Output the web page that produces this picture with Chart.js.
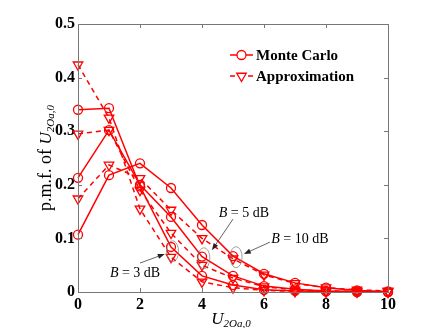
<!DOCTYPE html>
<html>
<head>
<meta charset="utf-8">
<script src="https://cdn.jsdelivr.net/npm/chart.js@4.4.0/dist/chart.umd.min.js"></script>
<style>
  html, body { margin: 0; padding: 0; background: #fff; }
  #wrap { width: 429px; height: 328px; }
</style>
</head>
<body>
<div id="wrap"><canvas id="pmf-chart" width="429" height="328"></canvas></div>
<script>
// values, one entry per U = 0..10
const xVals = [0, 1, 2, 3, 4, 5, 6, 7, 8, 9, 10];
const mcB3  = [0.340, 0.343, 0.197, 0.084, 0.030, 0.013, 0.004, 0.002, 0.001, 0.000, 0.000];
const apB3  = [0.424, 0.325, 0.155, 0.065, 0.019, 0.008, 0.003, 0.001, 0.000, 0.000, 0.000];
const mcB5  = [0.213, 0.302, 0.200, 0.140, 0.066, 0.030, 0.011, 0.005, 0.002, 0.001, 0.000];
const apB5  = [0.295, 0.302, 0.190, 0.110, 0.050, 0.026, 0.010, 0.004, 0.002, 0.001, 0.000];
const mcB10 = [0.107, 0.218, 0.240, 0.194, 0.125, 0.067, 0.034, 0.017, 0.008, 0.003, 0.001];
const apB10 = [0.174, 0.237, 0.212, 0.153, 0.100, 0.062, 0.032, 0.016, 0.008, 0.004, 0.002];
const xTicks = [0, 2, 4, 6, 8, 10];
const yTicks = [0, 0.1, 0.2, 0.3, 0.4, 0.5];
const legendNames = ['Monte Carlo', 'Approximation'];
// callouts, in data units: ellipse centre, arrow tail/head, label centre
const callouts = [
  { label: '3 dB',  ell: [3.05, 0.076], tail: [2.00, 0.054], head: [2.80, 0.071], at: [1.84, 0.037] },
  { label: '5 dB',  ell: [4.06, 0.063], tail: [5.00, 0.136], head: [4.32, 0.078], at: [5.35, 0.149] },
  { label: '10 dB', ell: [5.10, 0.065], tail: [6.19, 0.093], head: [5.35, 0.071], at: [7.16, 0.100] }
];

const RED = '#ff0000';
const SERIF = '"Liberation Serif", "Times New Roman", serif';

const pts = ys => xVals.map((x, i) => ({ x: x, y: ys[i] }));

function mcSet(name, ys) {
  return {
    label: name, data: pts(ys), borderColor: RED, backgroundColor: 'rgba(0,0,0,0)',
    borderWidth: 1.5, pointStyle: 'circle', pointRadius: 4.5, pointBorderWidth: 1.3,
    pointBorderColor: RED, pointBackgroundColor: 'rgba(0,0,0,0)', clip: false
  };
}
function apSet(name, ys) {
  return {
    label: name, data: pts(ys), borderColor: RED, backgroundColor: 'rgba(0,0,0,0)',
    borderWidth: 1.5, borderDash: [5, 4], pointStyle: 'triangle', pointRotation: 180,
    pointRadius: 5.5, pointBorderWidth: 1.3, pointBorderColor: RED,
    pointBackgroundColor: 'rgba(0,0,0,0)', clip: false
  };
}

// draw a run of text pieces with different fonts, centred on x, baseline y
function richText(ctx, parts, x, y) {
  let w = 0;
  parts.forEach(p => { ctx.font = p.font; p.w = ctx.measureText(p.t).width; w += p.w; });
  let cx = x - w / 2;
  ctx.textAlign = 'left';
  ctx.textBaseline = 'alphabetic';
  parts.forEach(p => {
    ctx.font = p.font;
    ctx.fillText(p.t, cx, y + (p.dy || 0));
    cx += p.w;
  });
}

function arrow(ctx, x1, y1, x2, y2) {
  const a = Math.atan2(y2 - y1, x2 - x1);
  ctx.beginPath();
  ctx.moveTo(x1, y1);
  ctx.lineTo(x2 - 5 * Math.cos(a), y2 - 5 * Math.sin(a));
  ctx.stroke();
  ctx.beginPath();
  ctx.moveTo(x2, y2);
  ctx.lineTo(x2 - 7 * Math.cos(a) + 2.6 * Math.sin(a), y2 - 7 * Math.sin(a) - 2.6 * Math.cos(a));
  ctx.lineTo(x2 - 7 * Math.cos(a) - 2.6 * Math.sin(a), y2 - 7 * Math.sin(a) + 2.6 * Math.cos(a));
  ctx.closePath();
  ctx.fill();
}

const decorations = {
  id: 'decorations',
  afterDatasetsDraw(chart) {
    const ctx = chart.ctx;
    const xs = chart.scales.x, ys = chart.scales.y;
    const a = chart.chartArea;
    ctx.save();

    // box and inward ticks
    ctx.strokeStyle = '#777';
    ctx.lineWidth = 1;
    ctx.strokeRect(Math.round(a.left) + 0.5, Math.round(a.top) + 0.5,
      Math.round(a.right - a.left), Math.round(a.bottom - a.top));
    ctx.beginPath();
    xTicks.forEach(v => {
      const px = Math.round(xs.getPixelForValue(v)) + 0.5;
      ctx.moveTo(px, a.bottom); ctx.lineTo(px, a.bottom - 4);
      ctx.moveTo(px, a.top); ctx.lineTo(px, a.top + 4);
    });
    yTicks.forEach(v => {
      const py = Math.round(ys.getPixelForValue(v)) + 0.5;
      ctx.moveTo(a.left, py); ctx.lineTo(a.left + 4, py);
      ctx.moveTo(a.right, py); ctx.lineTo(a.right - 4, py);
    });
    ctx.stroke();

    // callouts
    callouts.forEach(c => {
      ctx.strokeStyle = '#777';
      ctx.lineWidth = 0.7;
      ctx.setLineDash([]);
      ctx.beginPath();
      ctx.ellipse(xs.getPixelForValue(c.ell[0]), ys.getPixelForValue(c.ell[1]), 6, 10.5, 0, 0, Math.PI * 2);
      ctx.stroke();
      ctx.strokeStyle = '#222';
      ctx.fillStyle = '#222';
      ctx.lineWidth = 0.7;
      arrow(ctx, xs.getPixelForValue(c.tail[0]), ys.getPixelForValue(c.tail[1]),
        xs.getPixelForValue(c.head[0]), ys.getPixelForValue(c.head[1]));
      ctx.fillStyle = '#000';
      richText(ctx, [
        { t: 'B', font: 'italic 14px ' + SERIF },
        { t: ' = ' + c.label, font: '14px ' + SERIF }
      ], xs.getPixelForValue(c.at[0]), ys.getPixelForValue(c.at[1]) + 5);
    });

    // legend
    const lx = 230, rows = [55, 76];
    chart.data.datasets.slice(0, 2).forEach((ds, i) => {
      const ly = rows[i];
      ctx.strokeStyle = RED;
      ctx.lineWidth = 1.5;
      ctx.setLineDash(ds.borderDash || []);
      ctx.beginPath();
      ctx.moveTo(lx, ly); ctx.lineTo(lx + 23, ly);
      ctx.stroke();
      ctx.setLineDash([]);
      ctx.lineWidth = 1.3;
      ctx.fillStyle = '#fff';
      ctx.strokeStyle = RED;
      Chart.helpers.drawPoint(ctx, {
        pointStyle: ds.pointStyle, rotation: ds.pointRotation || 0,
        radius: ds.pointRadius, borderWidth: 1.3
      }, lx + 11.5, ly);
      ctx.fillStyle = '#000';
      ctx.font = 'bold 15px ' + SERIF;
      ctx.textAlign = 'left';
      ctx.textBaseline = 'middle';
      ctx.fillText(legendNames[i], lx + 26, ly + 1);
    });

    // axis titles
    ctx.fillStyle = '#000';
    richText(ctx, [
      { t: 'U', font: 'italic 17px ' + SERIF },
      { t: '2Oa,0', font: 'italic 11px ' + SERIF, dy: 3 }
    ], (a.left + a.right) / 2 - 2, 324);
    ctx.translate(51, 158);
    ctx.rotate(-Math.PI / 2);
    richText(ctx, [
      { t: 'p.m.f. of ', font: '18px ' + SERIF },
      { t: 'U', font: 'italic 17px ' + SERIF },
      { t: '2Oa,0', font: 'italic 11px ' + SERIF, dy: 3 }
    ], 0, 0);
    ctx.restore();
  }
};

const ctx = document.getElementById('pmf-chart').getContext('2d');
const chart = new Chart(ctx, {
  type: 'line',
  data: {
    datasets: [
      mcSet('Monte Carlo', mcB3),
      apSet('Approximation', apB3),
      mcSet('Monte Carlo B5', mcB5),
      apSet('Approximation B5', apB5),
      mcSet('Monte Carlo B10', mcB10),
      apSet('Approximation B10', apB10)
    ]
  },
  options: {
    responsive: false,
    animation: false,
    devicePixelRatio: 1,
    layout: { padding: { left: 0, top: 24, right: 41, bottom: 0 } },
    plugins: { legend: { display: false }, tooltip: { enabled: false } },
    elements: { line: { tension: 0 } },
    scales: {
      x: {
        type: 'linear', min: 0, max: 10,
        grid: { display: false, drawTicks: false },
        border: { display: false },
        afterBuildTicks: s => { s.ticks = xTicks.map(v => ({ value: v })); },
        afterFit: s => { s.height = 36; },
        ticks: { padding: 3, color: '#000', font: { family: SERIF, size: 16, weight: 'bold' } }
      },
      y: {
        type: 'linear', min: 0, max: 0.5,
        grid: { display: false, drawTicks: false },
        border: { display: false },
        afterBuildTicks: s => { s.ticks = yTicks.map(v => ({ value: v })); },
        afterFit: s => { s.width = 78; },
        ticks: {
          padding: 3, color: '#000', font: { family: SERIF, size: 16, weight: 'bold' },
          callback: v => (v === 0 ? '0' : v.toFixed(1))
        }
      }
    }
  },
  plugins: [decorations]
});
</script>
</body>
</html>
